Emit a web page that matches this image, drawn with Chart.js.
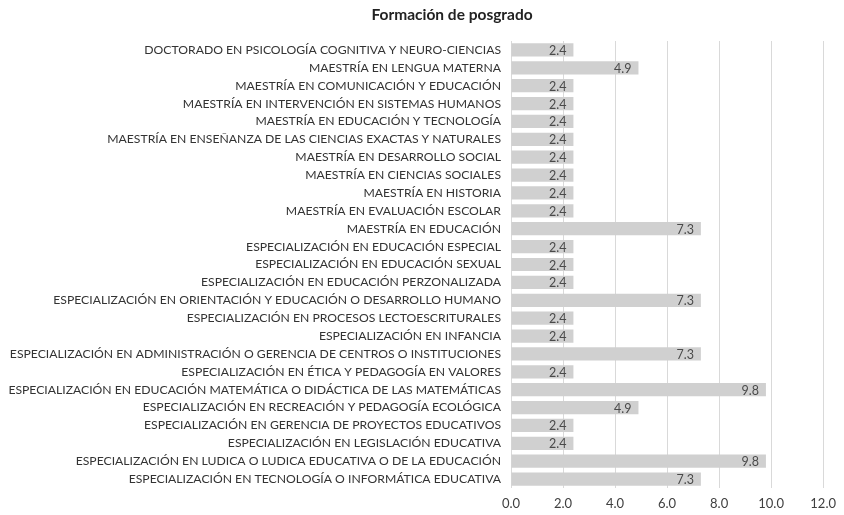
<!DOCTYPE html>
<html lang="es">
<head>
    <meta charset="UTF-8">
    <title>Formación de posgrado</title>
    <script src="https://cdn.jsdelivr.net/npm/chart.js"></script>
    <style>
        body, html { margin: 0; padding: 0; background: #fff; }
        #wrap { position: relative; width: 844px; height: 515px; }
    </style>
</head>
<body>
    <div id="wrap"><canvas id="chart"></canvas></div>
    <script>
        var chartTitle = 'Formación de posgrado';

        var programas = [
            'DOCTORADO EN PSICOLOGÍA COGNITIVA Y NEURO-CIENCIAS',
            'MAESTRÍA EN LENGUA MATERNA',
            'MAESTRÍA EN COMUNICACIÓN Y EDUCACIÓN',
            'MAESTRÍA EN INTERVENCIÓN EN SISTEMAS HUMANOS',
            'MAESTRÍA EN EDUCACIÓN Y TECNOLOGÍA',
            'MAESTRÍA EN ENSEÑANZA DE LAS CIENCIAS EXACTAS Y NATURALES',
            'MAESTRÍA EN DESARROLLO SOCIAL',
            'MAESTRÍA EN CIENCIAS SOCIALES',
            'MAESTRÍA EN HISTORIA',
            'MAESTRÍA EN EVALUACIÓN ESCOLAR',
            'MAESTRÍA EN EDUCACIÓN',
            'ESPECIALIZACIÓN EN EDUCACIÓN ESPECIAL',
            'ESPECIALIZACIÓN EN EDUCACIÓN SEXUAL',
            'ESPECIALIZACIÓN EN EDUCACIÓN PERZONALIZADA',
            'ESPECIALIZACIÓN EN ORIENTACIÓN Y EDUCACIÓN O DESARROLLO HUMANO',
            'ESPECIALIZACIÓN EN PROCESOS LECTOESCRITURALES',
            'ESPECIALIZACIÓN EN INFANCIA',
            'ESPECIALIZACIÓN EN ADMINISTRACIÓN O GERENCIA DE CENTROS O INSTITUCIONES',
            'ESPECIALIZACIÓN EN ÉTICA Y PEDAGOGÍA EN VALORES',
            'ESPECIALIZACIÓN EN EDUCACIÓN MATEMÁTICA O DIDÁCTICA DE LAS MATEMÁTICAS',
            'ESPECIALIZACIÓN EN RECREACIÓN Y PEDAGOGÍA ECOLÓGICA',
            'ESPECIALIZACIÓN EN GERENCIA DE PROYECTOS EDUCATIVOS',
            'ESPECIALIZACIÓN EN LEGISLACIÓN EDUCATIVA',
            'ESPECIALIZACIÓN EN LUDICA O LUDICA EDUCATIVA O DE LA EDUCACIÓN',
            'ESPECIALIZACIÓN EN TECNOLOGÍA O INFORMÁTICA EDUCATIVA'
        ];

        var porcentajes = [
            2.4, 4.9, 2.4, 2.4, 2.4, 2.4, 2.4, 2.4, 2.4, 2.4, 7.3,
            2.4, 2.4, 2.4, 7.3, 2.4, 2.4, 7.3, 2.4, 9.8, 4.9, 2.4, 2.4, 9.8, 7.3
        ];

        var xTicks = [0, 2, 4, 6, 8, 10, 12];

        var fontFam = 'Lato, "Open Sans", sans-serif';

        // etiquetas de valor dentro de cada barra
        var valueLabels = {
            id: 'valueLabels',
            afterDatasetsDraw: function(chart) {
                var ctx = chart.ctx;
                var meta = chart.getDatasetMeta(0);
                ctx.save();
                ctx.font = '12.5px ' + fontFam;
                ctx.fillStyle = '#4a4a4a';
                ctx.textAlign = 'right';
                ctx.textBaseline = 'middle';
                meta.data.forEach(function(bar, i) {
                    ctx.fillText(porcentajes[i].toFixed(1), bar.x - 7, bar.y + 1);
                });
                ctx.restore();
            }
        };

        var titleDraw = {
            id: 'titleDraw',
            afterDraw: function(chart) {
                var ctx = chart.ctx;
                ctx.save();
                ctx.font = 'bold 15.5px ' + fontFam;
                ctx.fillStyle = '#222';
                ctx.textAlign = 'center';
                ctx.textBaseline = 'middle';
                ctx.fillText(chartTitle, 452, 15);
                ctx.restore();
            }
        };

        new Chart(document.getElementById('chart'), {
            type: 'bar',
            data: {
                labels: programas,
                datasets: [{
                    data: porcentajes,
                    backgroundColor: '#d0d0d0',
                    borderWidth: 0,
                    categoryPercentage: 1.0,
                    barPercentage: 0.74
                }]
            },
            options: {
                indexAxis: 'y',
                responsive: true,
                maintainAspectRatio: false,
                animation: false,
                layout: { padding: { top: 41, right: 18, left: 0, bottom: 0 } },
                plugins: {
                    legend: { display: false },
                    title: { display: false },
                    tooltip: { enabled: false }
                },
                scales: {
                    x: {
                        min: 0,
                        max: 12,
                        afterBuildTicks: function(axis) {
                            axis.ticks = xTicks.map(function(v) { return { value: v }; });
                        },
                        afterFit: function(axis) { axis.height = 27; },
                        grid: { color: '#d9d9d9', drawTicks: false },
                        border: { display: false },
                        ticks: {
                            padding: 8,
                            color: '#404040',
                            maxRotation: 0,
                            font: { family: fontFam, size: 13 },
                            callback: function(v) { return Number(v).toFixed(1); }
                        }
                    },
                    y: {
                        afterFit: function(axis) { axis.width = 511; },
                        grid: { display: false },
                        border: { display: false },
                        ticks: {
                            autoSkip: false,
                            padding: 2,
                            color: '#333',
                            font: { family: fontFam, size: 12.2 }
                        }
                    }
                }
            },
            plugins: [valueLabels, titleDraw]
        });
    </script>
</body>
</html>
